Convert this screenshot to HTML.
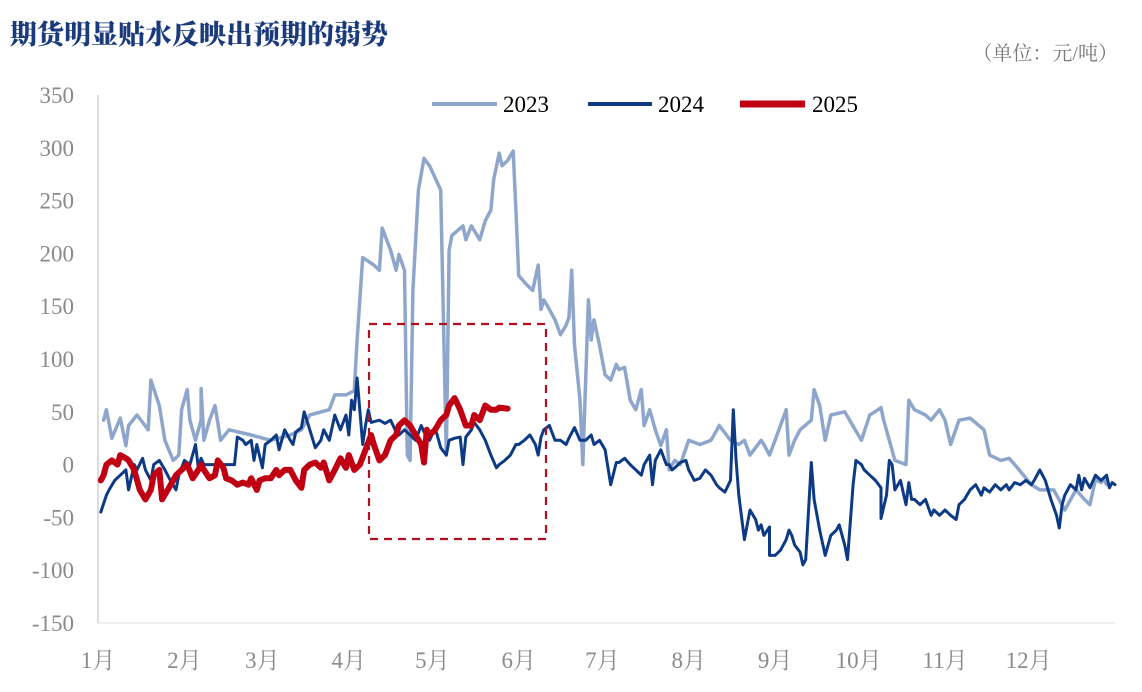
<!DOCTYPE html>
<html><head><meta charset="utf-8">
<style>
body{margin:0;background:#fff;width:1142px;height:687px;overflow:hidden;font-family:"Liberation Serif","Noto Serif CJK SC",serif;}
svg text{font-family:"Liberation Serif","Noto Serif CJK SC",serif;}
</style></head>
<body>
<svg id="chart" width="1142" height="687" xmlns="http://www.w3.org/2000/svg">
<text x="10" y="44" font-size="27" font-weight="900" fill="#1a3a7c">期货明显贴水反映出预期的弱势</text>
<text x="1118" y="60" font-size="20" fill="#777" text-anchor="end">（单位：元/吨）</text>
<g id="axes"></g>
<g id="series"></g>
<rect x="369" y="324" width="177" height="215" fill="none" stroke="#b01020" stroke-width="2.2" stroke-dasharray="8,6"/>
<g>
<line x1="432" y1="104" x2="497" y2="104" stroke="#8ea6cc" stroke-width="4"/>
<text x="503" y="112" font-size="23">2023</text>
<line x1="588" y1="104" x2="652" y2="104" stroke="#0c3a85" stroke-width="4"/>
<text x="658" y="112" font-size="23">2024</text>
<line x1="740" y1="104" x2="805" y2="104" stroke="#c00012" stroke-width="7"/>
<text x="812" y="112" font-size="23">2025</text>
</g>
</svg>
<script>
const yTicks=[350,300,250,200,150,100,50,0,-50,-100,-150];
const months=["1月","2月","3月","4月","5月","6月","7月","8月","9月","10月","11月","12月"];
const monthStartDays=[0,31,59,90,120,151,181,212,243,273,304,334];
const days2023=[2,3,5,8,10,11,14,18,19,22,24,27,29,30,32,33,35,37,37,38,40,42,44,47,55,62,69,73,76,83,85,89,92,93,95,99,101,102,105,107,108,110,111,112,113,115,117,119,123,125,126,127,131,132,134,137,139,141,142,144,145,147,149,150,151,154,156,158,159,160,162,164,166,168,169,170,171,173,174,176,177,178,180,182,184,186,187,189,191,193,195,196,198,200,202,204,205,207,209,212,216,220,223,227,230,232,234,238,239,241,243,247,248,250,252,256,257,259,261,263,268,274,277,280,281,282,286,290,291,293,297,299,302,304,306,309,313,318,320,324,327,329,335,338,340,343,347,351,354,356,358,360,361,362];
const vals2023=[42,52,25,44,18,37,47,33,80,56,23,4,9,52,71,42,23,42,72,23,42,56,23,33,28,23,28,33,47,52,66,66,70,118,196,189,184,224,203,184,199,184,9,4,165,260,290,283,260,9,203,217,226,213,226,213,231,241,270,295,283,288,297,241,179,170,165,189,147,156,147,137,123,132,139,184,113,61,0,156,118,137,113,85,80,95,90,92,61,52,71,37,52,33,18,33,-5,4,0,23,19,23,37,23,19,23,9,23,19,9,23,52,9,23,33,42,71,56,23,47,50,23,47,52,54,42,4,0,61,52,47,42,52,42,19,42,44,33,9,4,6,0,-19,-24,-24,-24,-43,-24,-33,-38,-14,-17,-14,-19,-43,-48,-5,-3,-24,-38,-43,-33,-48,-24,-33];
const days2024=[1,3,4,6,8,10,11,13,14,16,17,19,20,22,24,26,28,29,31,33,35,36,37,38,40,44,47,49,50,52,53,55,56,57,59,60,62,64,65,67,69,70,71,73,74,76,78,80,81,83,85,87,89,90,91,92,93,95,96,97,98,101,103,105,107,108,110,112,114,116,117,119,121,123,125,126,128,130,131,132,134,135,137,139,141,143,144,146,148,150,151,153,155,157,158,159,160,162,164,166,168,169,171,173,175,177,178,180,182,184,186,187,189,191,193,195,196,198,199,200,202,204,205,206,207,209,211,212,214,216,218,220,222,223,225,227,228,229,230,232,234,236,237,238,239,241,241,243,245,247,248,249,250,252,253,254,256,257,259,261,263,265,266,268,269,271,272,274,275,277,279,281,281,283,284,285,286,288,290,291,292,293,295,297,299,300,302,304,306,308,309,311,313,315,317,318,320,322,324,326,327,329,331,333,335,336,338,340,342,344,345,346,347,349,351,352,353,354,356,358,360,362,363,364,365];
const vals2024=[-45,-29,-24,-15,-10,-5,-24,0,-5,6,-5,-15,0,4,-5,-15,-24,-10,4,0,19,-3,6,0,0,0,0,0,26,23,19,23,4,19,-3,19,23,28,14,33,23,19,31,35,50,33,16,23,33,23,47,33,47,28,61,52,82,19,37,52,40,42,39,42,31,28,33,28,23,37,31,23,35,16,9,23,25,26,0,26,33,40,33,23,9,-3,0,4,9,19,19,23,28,19,9,26,33,37,23,23,19,25,35,23,23,28,19,23,14,-19,2,2,6,0,-5,-10,0,9,-19,4,14,0,0,-5,-3,2,4,-5,-15,-13,-5,-10,-19,-22,-26,-15,52,4,-29,-71,-43,-52,-62,-57,-67,-59,-86,-86,-81,-71,-62,-67,-76,-83,-95,-90,2,-33,-62,-86,-67,-62,-57,-76,-90,-19,4,0,-5,-10,-15,-22,-51,-29,4,0,-24,-15,-38,-17,-33,-33,-38,-33,-48,-43,-48,-43,-48,-52,-38,-33,-24,-19,-29,-22,-26,-19,-24,-19,-24,-17,-19,-15,-19,-15,-5,-15,-33,-48,-60,-38,-29,-19,-24,-10,-24,-13,-22,-10,-15,-10,-22,-17,-19];
const days2025=[1,2,3,5,7,8,10,11,13,15,17,19,20,22,23,25,27,28,30,32,34,36,37,38,40,42,43,45,46,48,50,52,54,55,57,58,60,62,64,65,67,69,71,73,74,76,78,80,81,83,85,87,89,90,92,94,96,98,99,101,103,105,107,108,110,112,114,116,117,118,119,121,123,125,126,128,130,132,134,135,137,139,141,143,144,147];
const vals2025=[-15,-10,0,4,0,9,6,4,-5,-24,-33,-24,-10,-5,-33,-24,-15,-10,-5,0,-13,-5,0,-5,-13,-10,4,-3,-13,-15,-19,-17,-19,-13,-24,-15,-13,-13,-5,-10,-5,-5,-15,-22,-5,0,2,-3,2,-15,-5,6,-3,9,-5,0,14,28,19,4,9,23,28,37,42,37,28,19,2,33,28,33,42,47,56,63,52,37,37,47,42,56,52,52,54,53];
const X0=98,X1=1115,Y0=95,Y1=623;
const xScale=d=>X0+d*(X1-X0)/365;
const yScale=v=>Y0+(350-v)*(Y1-Y0)/500;
const NS="http://www.w3.org/2000/svg";
const axes=document.getElementById('axes');
function mk(tag,attrs,parent){const e=document.createElementNS(NS,tag);for(const k in attrs)e.setAttribute(k,attrs[k]);parent.appendChild(e);return e;}
const yAxis=mk('line',{x1:X0,y1:Y0,x2:X0,y2:Y1,stroke:'#bbb','stroke-width':1},axes);


const xAxis=mk('line',{x1:X0,y1:Y1,x2:X1,y2:Y1,stroke:'#ddd','stroke-width':1},axes);


yTicks.forEach(v=>{const t=mk('text',{x:74,y:yScale(v)+8,'font-size':23,fill:'#8a8a8a','text-anchor':'end'},axes);t.textContent=v;

});
months.forEach((m,i)=>{const t=mk('text',{x:xScale(monthStartDays[i]),y:668,'font-size':23,fill:'#8a8a8a','text-anchor':'middle'},axes);t.textContent=m;

});
const sg=document.getElementById('series');
function line(days,vals,color,w,name){const pts=days.map((d,i)=>xScale(d).toFixed(1)+','+yScale(vals[i]).toFixed(1)).join(' ');
const p=mk('polyline',{points:pts,fill:'none',stroke:color,'stroke-width':w,'stroke-linejoin':'round','stroke-linecap':'round'},sg);

}
line(days2023,vals2023,'#8ea6cc',3.5,'series-2023-line');
line(days2024,vals2024,'#0c3a85',3,'series-2024-line');
line(days2025,vals2025,'#c00012',6,'series-2025-line');
</script>
</body></html>
